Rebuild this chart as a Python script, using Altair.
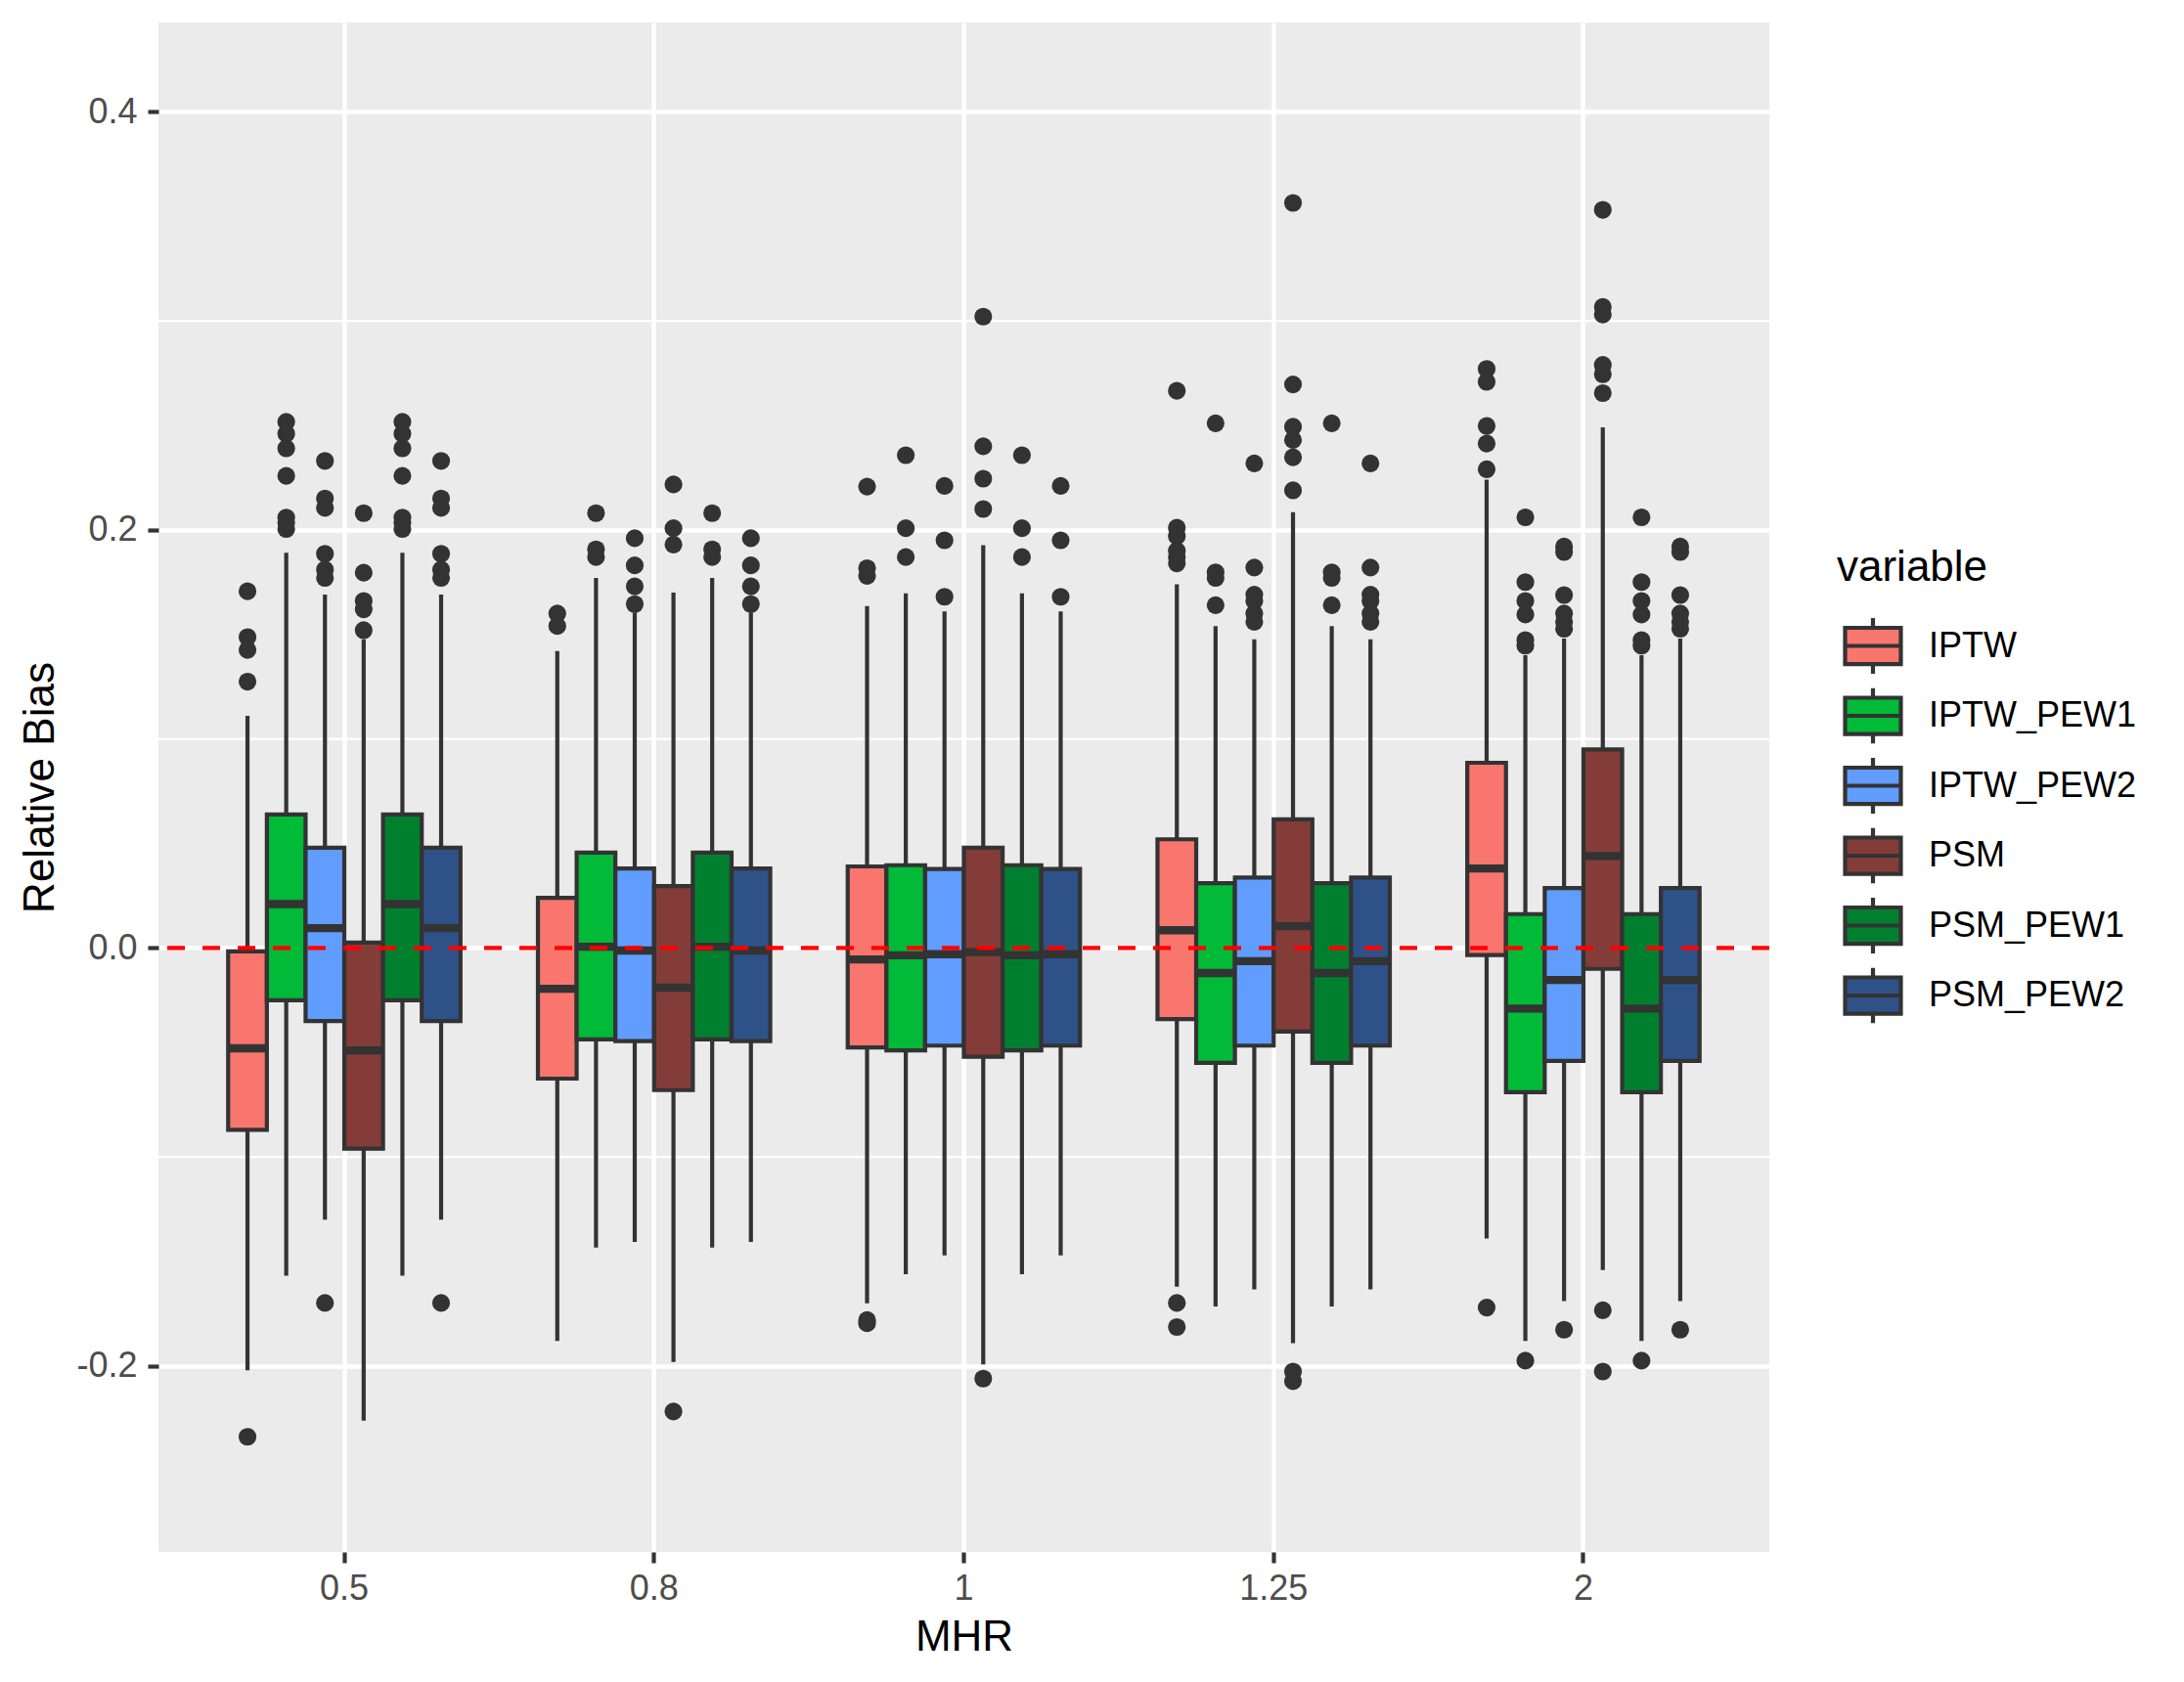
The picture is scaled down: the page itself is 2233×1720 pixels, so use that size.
import altair as alt
import pandas as pd

# ---------------- data ----------------
mhr_levels = ["0.5", "0.8", "1", "1.25", "2"]
methods = ["IPTW", "IPTW_PEW1", "IPTW_PEW2", "PSM", "PSM_PEW1", "PSM_PEW2"]
fill_colors = ["#F8766D", "#00BA38", "#619CFF", "#843C39", "#00802F", "#2E5288"]

# per method, one value per MHR level (0.5, 0.8, 1, 1.25, 2)
whisker_low = {
    "IPTW":      [-0.202, -0.188, -0.170, -0.162, -0.139],
    "IPTW_PEW1": [-0.1567, -0.1433, -0.156, -0.1715, -0.188],
    "IPTW_PEW2": [-0.130, -0.1406, -0.147, -0.1633, -0.1689],
    "PSM":       [-0.2261, -0.198, -0.1992, -0.189, -0.1541],
}
q1 = {
    "IPTW":      [-0.087, -0.0625, -0.0476, -0.034, -0.0034],
    "IPTW_PEW1": [-0.025, -0.0437, -0.049, -0.055, -0.069],
    "IPTW_PEW2": [-0.035, -0.0445, -0.0467, -0.0467, -0.054],
    "PSM":       [-0.096, -0.068, -0.052, -0.040, -0.010],
}
median = {
    "IPTW":      [-0.048, -0.0195, -0.0055, 0.0085, 0.038],
    "IPTW_PEW1": [0.021, 0.0006, -0.0035, -0.012, -0.029],
    "IPTW_PEW2": [0.0095, -0.0012, -0.003, -0.0063, -0.0153],
    "PSM":       [-0.049, -0.019, -0.002, 0.0104, 0.044],
}
q3 = {
    "IPTW":      [-0.0016, 0.024, 0.039, 0.052, 0.0886],
    "IPTW_PEW1": [0.0639, 0.0456, 0.0396, 0.031, 0.0162],
    "IPTW_PEW2": [0.048, 0.038, 0.0378, 0.0337, 0.0287],
    "PSM":       [0.0026, 0.0296, 0.048, 0.0615, 0.095],
}
whisker_high = {
    "IPTW":      [0.111, 0.142, 0.1635, 0.174, 0.224],
    "IPTW_PEW1": [0.189, 0.177, 0.1696, 0.154, 0.140],
    "IPTW_PEW2": [0.169, 0.1605, 0.161, 0.1477, 0.148],
    "PSM":       [0.1477, 0.170, 0.1927, 0.2085, 0.249],
}
outliers = {
    "IPTW": [
        [0.1706, 0.1487, 0.1426, 0.1274, -0.2338],
        [0.160, 0.154],
        [0.2207, 0.1817, 0.178, -0.178, -0.1795],
        [0.2665, 0.201, 0.197, 0.190, 0.187, 0.184, -0.1698, -0.1813],
        [0.277, 0.2708, 0.2497, 0.2413, 0.229, -0.172],
    ],
    "IPTW_PEW1": [
        [0.2517, 0.246, 0.239, 0.2258, 0.2059, 0.2034, 0.2004],
        [0.208, 0.1907, 0.187],
        [0.2357, 0.2008, 0.187],
        [0.251, 0.1797, 0.177, 0.164],
        [0.206, 0.175, 0.166, 0.1595, 0.1473, 0.1446, -0.1974],
    ],
    "IPTW_PEW2": [
        [0.233, 0.215, 0.2105, 0.1886, 0.181, 0.177, -0.1698],
        [0.196, 0.183, 0.173, 0.1645],
        [0.221, 0.195, 0.168],
        [0.2318, 0.182, 0.169, 0.166, 0.160, 0.156],
        [0.192, 0.1894, 0.1688, 0.160, 0.156, 0.1527, -0.1826],
    ],
    "PSM": [
        [0.208, 0.1795, 0.166, 0.162, 0.152],
        [0.2217, 0.2008, 0.193, -0.2217],
        [0.302, 0.240, 0.2245, 0.210, -0.206],
        [0.3564, 0.2696, 0.2493, 0.243, 0.2347, 0.2189, -0.2026, -0.2072],
        [0.3531, 0.3066, 0.303, 0.2789, 0.2744, 0.2654, -0.1733, -0.2026],
    ],
}
# the PEW variants of PSM read identical to those of IPTW in the picture
for d in (whisker_low, q1, median, q3, whisker_high, outliers):
    d["PSM_PEW1"] = d["IPTW_PEW1"]
    d["PSM_PEW2"] = d["IPTW_PEW2"]

y_breaks = [-0.2, 0.0, 0.2, 0.4]
y_minor_breaks = [-0.1, 0.1, 0.3]
reference_value = [0.0]

# ---------------- tables ----------------
box_rows = []
out_rows = []
for m in methods:
    for i, lvl in enumerate(mhr_levels):
        box_rows.append(dict(mhr=lvl, variable=m, lo=whisker_low[m][i], q1=q1[m][i],
                             med=median[m][i], q3=q3[m][i], hi=whisker_high[m][i]))
        for v in outliers[m][i]:
            out_rows.append(dict(mhr=lvl, variable=m, value=v))
box_df = pd.DataFrame(box_rows)
out_df = pd.DataFrame(out_rows)
minor_df = pd.DataFrame({"y": y_minor_breaks})
ref_df = pd.DataFrame({"y": reference_value})

# ---------------- encodings ----------------
DARK = "#333333"
LW = 4.2
x_axis = alt.Axis(title="MHR", labelAngle=0, domain=False, ticks=True, tickSize=11,
                  tickWidth=LW, tickColor=DARK, labelFontSize=36, labelColor="#4D4D4D",
                  labelPadding=9, titleFontSize=44, titleColor="black",
                  titleFontWeight="normal", titleBaseline="alphabetic", titleY=100,
                  grid=True, gridColor="white", gridWidth=4.4)
y_axis = alt.Axis(title="Relative Bias", values=y_breaks,
                  labelExpr="datum.value < 0 ? '-' + format(-datum.value, '.1f') : format(datum.value, '.1f')",
                  domain=False, tickSize=11, tickWidth=LW, tickColor=DARK,
                  labelFontSize=36, labelColor="#4D4D4D", labelPadding=11,
                  titleFontSize=44, titleColor="black", titleFontWeight="normal",
                  titleAngle=270, titleBaseline="alphabetic", titleX=-108, titleY=782,
                  titleAlign="center", grid=True, gridColor="white", gridWidth=4.4)

x_scale = alt.Scale(domain=mhr_levels, paddingInner=0.25, paddingOuter=0.225)
xo_scale = alt.Scale(domain=methods, paddingInner=0, paddingOuter=0)
y_scale = alt.Scale(domain=[-0.2889, 0.4427], nice=False, zero=False)


def X():
    return alt.X("mhr:N", sort=mhr_levels, scale=x_scale, axis=x_axis)


def XO():
    return alt.XOffset("variable:N", sort=methods, scale=xo_scale)


box_symbol = "M-1,-0.65L1,-0.65L1,0.65L-1,0.65Z M-1,0L1,0 M0,-0.65L0,-1 M0,0.65L0,1"

legend = alt.Legend(title="variable", orient="none", legendX=1716, legendY=536,
                    symbolType=box_symbol, symbolSize=3249, symbolStrokeColor=DARK,
                    symbolStrokeWidth=LW, symbolOpacity=1, symbolOffset=6,
                    labelOffset=26, rowPadding=14.5, clipHeight=57, titlePadding=29,
                    labelFontSize=36, labelLimit=500, titleFontSize=44,
                    labelColor="black", titleColor="black",
                    titleFontWeight="normal", padding=0)

minor = alt.Chart(minor_df).mark_rule(color="white", strokeWidth=2.2).encode(
    y=alt.Y("y:Q", scale=y_scale, axis=y_axis)
)

whiskers = alt.Chart(box_df).mark_rule(color=DARK, strokeWidth=LW).encode(
    x=X(), xOffset=XO(),
    y=alt.Y("lo:Q", scale=y_scale, axis=y_axis), y2="hi:Q",
)

boxes = alt.Chart(box_df).mark_bar(stroke=DARK, strokeWidth=LW, opacity=1).encode(
    x=X(), xOffset=XO(),
    y=alt.Y("q1:Q", scale=y_scale, axis=y_axis), y2="q3:Q",
    fill=alt.Fill("variable:N", sort=methods,
                  scale=alt.Scale(domain=methods, range=fill_colors), legend=legend),
)

medians = alt.Chart(box_df).mark_bar(stroke=DARK, fill=DARK, strokeWidth=2 * LW).encode(
    x=X(), xOffset=XO(),
    y=alt.Y("med:Q", scale=y_scale, axis=y_axis), y2="med:Q",
)

points = alt.Chart(out_df).mark_circle(size=330, color=DARK, opacity=1).encode(
    x=X(), xOffset=XO(),
    y=alt.Y("value:Q", scale=y_scale, axis=y_axis),
)

ref_line = alt.Chart(ref_df).mark_rule(color="#FF0000", strokeWidth=4.4,
                                      strokeDash=[18, 18]).encode(
    y=alt.Y("y:Q", scale=y_scale, axis=y_axis)
)

chart = alt.layer(minor, whiskers, boxes, medians, points, ref_line).properties(
    width=1647, height=1564,
    autosize=alt.AutoSizeParams(type="none"),
    padding={"left": 154, "top": 15, "right": 416, "bottom": 125},
).configure(
    font="Liberation Sans", background="white"
).configure_view(
    fill="#EBEBEB", strokeWidth=0
)

chart.save("out.html", embed_options={"renderer": "svg", "actions": False})
